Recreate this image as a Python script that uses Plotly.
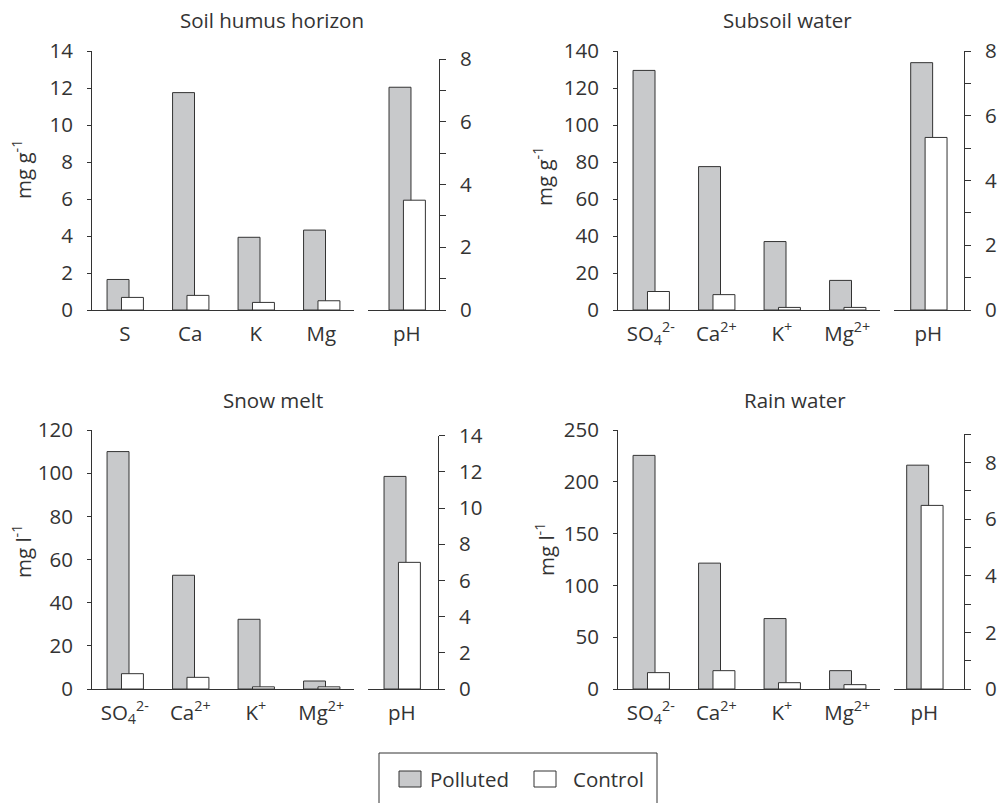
import plotly.graph_objects as go

# ---- data ---------------------------------------------------------------
soil_ions = ["S", "Ca", "K", "Mg"]
water_ions = ["SO<sub>4</sub><sup>2-</sup>", "Ca<sup>2+</sup>", "K<sup>+</sup>", "Mg<sup>2+</sup>"]
ph_cat = ["pH"]
series_names = ["Polluted", "Control"]

humus_polluted = [1.65, 11.75, 3.93, 4.32]
humus_control = [0.68, 0.79, 0.41, 0.50]
humus_ph_polluted = [7.1]
humus_ph_control = [3.5]

subsoil_polluted = [129.5, 77.5, 37.0, 16.0]
subsoil_control = [10.0, 8.3, 1.4, 1.4]
subsoil_ph_polluted = [7.64]
subsoil_ph_control = [5.33]

snow_polluted = [110.0, 52.7, 32.3, 3.7]
snow_control = [7.1, 5.4, 1.0, 1.0]
snow_ph_polluted = [11.75]
snow_ph_control = [7.0]

rain_polluted = [225.5, 121.5, 68.0, 17.7]
rain_control = [15.8, 17.7, 6.1, 4.2]
rain_ph_polluted = [7.9]
rain_ph_control = [6.48]

# ---- styling ------------------------------------------------------------
W, H = 1004, 803
FONT = "Open Sans"
INK = "#333333"
GREY = "#c8c9cb"
FS = 20.5

BAR_W = 0.335
OFF_POL = -0.27
OFF_CTL = -0.05
FILLS = [GREY, "white"]


def px_x(v):
    return v / W


def px_y(v):
    return 1 - v / H


panels = [
    dict(title="Soil humus horizon", unit="mg g<sup>-1</sup>", cats=soil_ions,
         pol=humus_polluted, ctl=humus_control,
         php=humus_ph_polluted, phc=humus_ph_control,
         yrange=[0, 14], ydtick=2, rrange=[0, 8], rdtick=2, rminor=1,
         xl=(92, 354), xr=(368, 439), ybot=310, ytop=51, rtop=59,
         phx=(-0.591, 0.493), title_at=(272, 20), unit_at=(22, 170)),
    dict(title="Subsoil water", unit="mg g<sup>-1</sup>", cats=water_ions,
         pol=subsoil_polluted, ctl=subsoil_control,
         php=subsoil_ph_polluted, phc=subsoil_ph_control,
         yrange=[0, 140], ydtick=20, rrange=[0, 8], rdtick=2, rminor=1,
         xl=(618, 880), xr=(894, 964), ybot=310, ytop=51, rtop=51,
         phx=(-0.525, 0.544), title_at=(787, 20), unit_at=(543, 177)),
    dict(title="Snow melt", unit="mg l<sup>-1</sup>", cats=water_ions,
         pol=snow_polluted, ctl=snow_control,
         php=snow_ph_polluted, phc=snow_ph_control,
         yrange=[0, 120], ydtick=20, rrange=[0, 14], rdtick=2, rminor=None,
         xl=(92, 354), xr=(368, 438), ybot=689, ytop=430, rtop=435.7,
         phx=(-0.515, 0.554), title_at=(273, 400), unit_at=(22, 552)),
    dict(title="Rain water", unit="mg l<sup>-1</sup>", cats=water_ions,
         pol=rain_polluted, ctl=rain_control,
         php=rain_ph_polluted, phc=rain_ph_control,
         yrange=[0, 250], ydtick=50, rrange=[0, 9], rdtick=2, rminor=1,
         xl=(618, 880), xr=(894, 964), ybot=689, ytop=430, rtop=434,
         phx=(-0.464, 0.605), title_at=(795, 400), unit_at=(545, 550)),
]

fig = go.Figure()
layout = {}
annotations = []
shapes = []


def axis_key(kind, n):
    return f"{kind}axis" if n == 1 else f"{kind}axis{n}"


def ref(kind, n):
    return kind if n == 1 else f"{kind}{n}"


bar_line = dict(color=INK, width=1)
for i, p in enumerate(panels):
    nl, nr = 2 * i + 1, 2 * i + 2

    # ion concentrations (left scale) and pH (right scale)
    for xs, ys, n in ((p["cats"], p["pol"], nl), (ph_cat, p["php"], nr)):
        fig.add_trace(go.Bar(x=xs, y=ys, name=series_names[0], showlegend=False,
                             marker=dict(color=FILLS[0], line=bar_line),
                             width=BAR_W, offset=OFF_POL,
                             xaxis=ref("x", n), yaxis=ref("y", n)))
    for xs, ys, n in ((p["cats"], p["ctl"], nl), (ph_cat, p["phc"], nr)):
        fig.add_trace(go.Bar(x=xs, y=ys, name=series_names[1], showlegend=False,
                             marker=dict(color=FILLS[1], line=bar_line),
                             width=BAR_W, offset=OFF_CTL,
                             xaxis=ref("x", n), yaxis=ref("y", n)))

    common_x = dict(type="category", showline=True, linecolor=INK, linewidth=1,
                    ticks="", showgrid=False, zeroline=False, automargin=False,
                    tickfont=dict(family=FONT, size=FS, color=INK),
                    ticklabelstandoff=5, fixedrange=True)
    layout[axis_key("x", nl)] = dict(common_x, anchor=ref("y", nl),
                                     domain=[px_x(p["xl"][0]), px_x(p["xl"][1])],
                                     range=[-0.5, len(p["cats"]) - 0.5])
    layout[axis_key("x", nr)] = dict(common_x, anchor=ref("y", nr),
                                     domain=[px_x(p["xr"][0]), px_x(p["xr"][1])],
                                     range=list(p["phx"]))

    common_y = dict(showline=True, linecolor=INK, linewidth=1, ticks="outside",
                    tickcolor=INK, tickwidth=1, showgrid=False, zeroline=False,
                    automargin=False,
                    tickfont=dict(family=FONT, size=FS, color=INK),
                    ticklabelstandoff=10, fixedrange=True)
    layout[axis_key("y", nl)] = dict(common_y, anchor=ref("x", nl), side="left",
                                     domain=[px_y(p["ybot"]), px_y(p["ytop"])],
                                     range=p["yrange"], dtick=p["ydtick"], tick0=0,
                                     ticklen=4)
    right = dict(common_y, anchor=ref("x", nr), side="right",
                 domain=[px_y(p["ybot"]), px_y(p["rtop"])],
                 range=p["rrange"], dtick=p["rdtick"], tick0=0, ticklen=6)
    if p["rminor"]:
        right["minor"] = dict(dtick=p["rminor"], ticks="outside", ticklen=6,
                              tickcolor=INK, tickwidth=1, showgrid=False)
    layout[axis_key("y", nr)] = right

    annotations.append(dict(text=p["title"], xref="paper", yref="paper",
                            x=px_x(p["title_at"][0]), y=px_y(p["title_at"][1]),
                            showarrow=False, xanchor="center", yanchor="middle",
                            font=dict(family=FONT, size=FS, color=INK)))
    annotations.append(dict(text=p["unit"], xref="paper", yref="paper",
                            x=px_x(p["unit_at"][0]), y=px_y(p["unit_at"][1]),
                            showarrow=False, xanchor="center", yanchor="middle",
                            textangle=-90,
                            font=dict(family=FONT, size=FS, color=INK)))

# ---- legend box along the bottom edge ---------------------------------------
shapes.append(dict(type="rect", xref="paper", yref="paper",
                   x0=px_x(379), x1=px_x(657), y0=px_y(840), y1=px_y(753),
                   line=dict(color=INK, width=1), fillcolor="rgba(0,0,0,0)",
                   layer="above"))
legend_slots = [(399, 428), (534, 571)]
for (sx, tx), name, fill in zip(legend_slots, series_names, FILLS):
    shapes.append(dict(type="rect", xref="paper", yref="paper",
                       x0=px_x(sx), x1=px_x(sx + 22), y0=px_y(787), y1=px_y(771),
                       line=dict(color=INK, width=1), fillcolor=fill))
    annotations.append(dict(text=name, xref="paper", yref="paper",
                            x=px_x(tx), y=px_y(779), showarrow=False,
                            xanchor="left", yanchor="middle",
                            font=dict(family=FONT, size=FS, color=INK)))

fig.update_layout(
    **layout,
    annotations=annotations,
    shapes=shapes,
    barmode="overlay",
    showlegend=False,
    width=W, height=H,
    margin=dict(l=0, r=0, t=0, b=0, pad=0, autoexpand=False),
    paper_bgcolor="white", plot_bgcolor="white",
    font=dict(family=FONT, size=FS, color=INK),
)

fig.write_html("out.html")
